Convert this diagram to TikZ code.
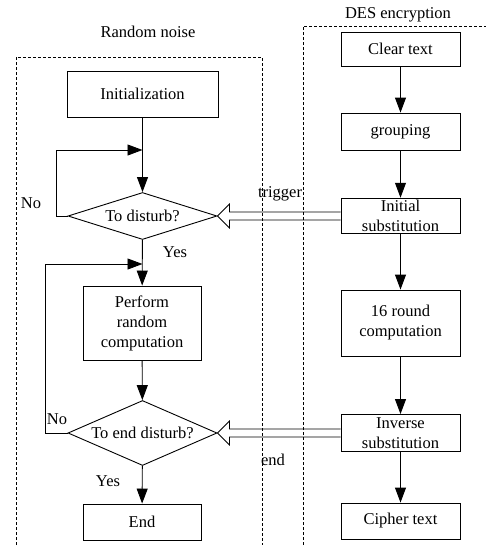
\documentclass[tikz,border=0pt]{standalone}
\usepackage{fontspec}
\setmainfont{Liberation Serif}
\usetikzlibrary{shapes.geometric, arrows.meta, calc, positioning}
\tikzset{
        >={Triangle[length=15pt,width=11pt]}, % filled arrow heads
        flow/.style={->, line width=0.9pt}, % the plain connectors
        block/.style={draw, line width=0.9pt, align=center, inner sep=2pt}, % the boxes
        decision/.style={diamond, draw, line width=0.9pt, inner sep=0pt}, % the questions
        frame/.style={dashed, dash pattern=on 3pt off 2pt, line width=0.6pt}, % the two dashed frames
        hollow/.style={line width=0.8pt}, % the open block arrows
}

\begin{document}
\begin{tikzpicture}[x=1pt, y=-1pt, font=\fontsize{16.5}{20}\selectfont]
     \useasboundingbox (0,0) rectangle (486,547);
     % titles and frames
     \node (tnoise) at (148,32) {Random noise};
     \node (tdes) at (398,15) {DES encryption};
     \draw[frame] (16,545) -- (16,57) -- (262,57) -- (262,545);
     \draw[frame] (303,545) -- (303,26) -- (486,26);

     % random noise
     \node[block, minimum width=151, minimum height=46] (init) at (142.5,94) {Initialization};
     \node[decision, minimum width=149, minimum height=47, aspect=3.17] (dis1) at (142.5,216) {To disturb?};
     \node[block, minimum width=118, minimum height=74] (perf) at (142,323) {Perform\\random\\computation};
     \node[decision, minimum width=149, minimum height=65, aspect=2.29] (dis2) at (142.5,433) {To end disturb?};
     \node[block, minimum width=118, minimum height=36] (endn) at (142,522) {End};
     \coordinate (j1) at (142.5,150);
     \coordinate (j2) at (142.5,264);

     \draw[flow] (init) -- (dis1);
     \draw[flow] (dis1) -- (perf);
     \draw[flow] (perf) -- (dis2);
     \draw[flow] (dis2) -- (endn);
     \draw[flow] (dis1.west) -- ++(-11,0) |- (j1);
     \draw[flow] (dis2.west) -- ++(-22,0) |- (j2);
     \node (no1) at (31,203) {No};
     \node (yes1) at (175,252) {Yes};
     \node (no2) at (57,419) {No};
     \node (yes2) at (108,481) {Yes};

     % DES encryption
     \node[block, minimum width=119, minimum height=34] (clear) at (400.5,49) {Clear text};
     \node[block, minimum width=119, minimum height=37] (group) at (400.5,131.5) {grouping};
     \node[block, minimum width=119, minimum height=35] (sub1) at (400.5,216) {Initial\\substitution};
     \node[block, minimum width=119, minimum height=66] (round) at (400.5,323) {16 round\\computation};
     \node[block, minimum width=119, minimum height=37] (sub2) at (400.5,433) {Inverse\\substitution};
     \node[block, minimum width=119, minimum height=36] (cipher) at (400.5,521) {Cipher text};
     \foreach \a/\b in {clear/group, group/sub1, sub1/round, round/sub2, sub2/cipher}
         \draw[flow] (\a) -- (\b);

     % open arrows between the two sides
     \draw[hollow] ($(sub1.west)+(0,-4)$) -| ($(dis1.east)+(12,-12)$) -- (dis1.east)
           -- ($(dis1.east)+(12,12)$) |- ($(sub1.west)+(0,4)$);
     \draw[hollow] ($(sub2.west)+(0,-4)$) -| ($(dis2.east)+(12,-12)$) -- (dis2.east)
           -- ($(dis2.east)+(12,12)$) |- ($(sub2.west)+(0,4)$);
     \node (trig) at (280,194) {trigger};
     \node (endlbl) at (273,460) {end};
\end{tikzpicture}
\end{document}
